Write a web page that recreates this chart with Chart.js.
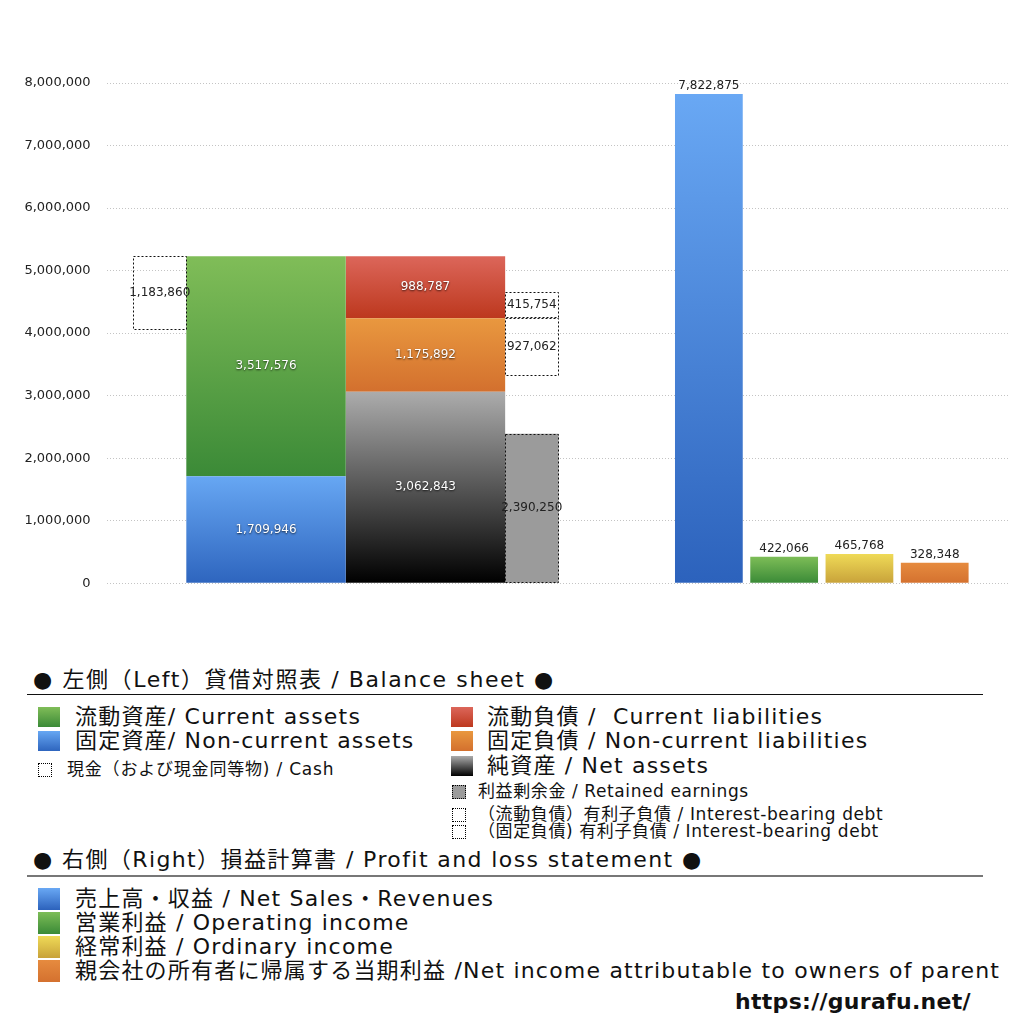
<!DOCTYPE html>
<html lang="ja">
<head>
<meta charset="UTF-8">
<title>貸借対照表・損益計算書</title>
<script src="https://cdn.jsdelivr.net/npm/chart.js@4.4.4/dist/chart.umd.min.js"></script>
<style>
  body { margin: 0; background: #fff; color: #111;
         font-family: "DejaVu Sans", "Noto Sans CJK JP", sans-serif; }
  #page { position: relative; width: 1024px; height: 1024px; overflow: hidden; }
  #chartBox { position: absolute; left: 0; top: 0; width: 1024px; height: 607px; }
  .item { position: absolute; white-space: pre; }
  .sw { position: absolute; box-sizing: border-box; }
  .dot { border: 1px dotted #000; background: #fff; }
  .rule { position: absolute; left: 27px; width: 956px; }
</style>
</head>
<body>
<div id="page">
  <div id="chartBox"><canvas id="bsChart"></canvas></div>
</div>
<script>
// columns on the chart
const bsColumns = ['現金', '資産', '負債・純資産', '内訳'];
const plColumns = ['売上高', '営業利益', '経常利益', '当期利益'];

// balance sheet (left)
const assetNames  = ['流動資産/ Current assets', '固定資産/ Non-current assets'];
const assetValues = [3517576, 1709946];
const cashName  = '現金（および現金同等物) / Cash';
const cashValue = 1183860;
const liabNames  = ['流動負債 /  Current liabilities', '固定負債 / Non-current liabilities', '純資産 / Net assets'];
const liabValues = [988787, 1175892, 3062843];
const detailNames  = ['利益剰余金 / Retained earnings', '（流動負債）有利子負債 / Interest-bearing debt', '（固定負債) 有利子負債 / Interest-bearing debt'];
const detailValues = [2390250, 415754, 927062];

// profit and loss (right)
const plNames  = ['売上高・収益 / Net Sales・Revenues', '営業利益 / Operating income', '経常利益 / Ordinary income', '親会社の所有者に帰属する当期利益 /Net income attributable to owners of parent'];
const plValues = [7822875, 422066, 465768, 328348];

const yTicks = [0, 1000000, 2000000, 3000000, 4000000, 5000000, 6000000, 7000000, 8000000];

// slot layout of the two hidden category axes
const BS_SLOTS = 18, BS_AT = [1, 3, 6, 8];
const PL_SLOTS = 13, PL_AT = [8, 9, 10, 11];
function slotLabels(n, names, at) {
  const a = new Array(n).fill('');
  at.forEach((p, i) => { a[p] = names[i]; });
  return a;
}

const colors = {
  ca:  ['#80bd58', '#3b8a37'],
  nca: ['#67a7f3', '#2e65be'],
  cl:  ['#dc665a', '#bd381e'],
  ncl: ['#e9983f', '#d3702e'],
  na:  ['#acacac', '#000000'],
  re:  '#9b9b9b',
  pl:  [['#69a8f4', '#2c62bc'], ['#7dbd57', '#3a8a37'], ['#efda57', '#c8a23a'], ['#e68b3f', '#d4712f']]
};

function vGrad(pick) {
  return ctx => {
    const c = typeof pick === 'function' ? pick(ctx) : pick;
    const chart = ctx.chart;
    if (!chart.chartArea || ctx.type !== 'data') return c[1];
    const ys = chart.scales.y;
    const r = ctx.raw.y;
    const lo = Array.isArray(r) ? Math.min(r[0], r[1]) : 0;
    const hi = Array.isArray(r) ? Math.max(r[0], r[1]) : r;
    const top = ys.getPixelForValue(hi), bot = ys.getPixelForValue(lo);
    if (!isFinite(top) || bot - top < 1) return c[1];
    const g = chart.ctx.createLinearGradient(0, top, 0, bot);
    g.addColorStop(0, c[0]);
    g.addColorStop(1, c[1]);
    return g;
  };
}

const [ca, nca] = assetValues;
const [cl, ncl, na] = liabValues;
const [re, cibd, ncibd] = detailValues;
const total = ca + nca;
const debtLine = na + ncl;   // boundary current / non-current liabilities

// bar widths are relative to the closest spacing of the columns (two slots)
const wide = { barPercentage: 1.5, categoryPercentage: 1, grouped: false, borderWidth: 0 };
const narrow = { barPercentage: 0.505, categoryPercentage: 1, grouped: false, borderWidth: 0 };

const datasets = [
  { ...wide, label: assetNames[1], data: [{ x: bsColumns[1], y: [0, nca] }], backgroundColor: vGrad(colors.nca), look: 'light' },
  { ...wide, label: assetNames[0], data: [{ x: bsColumns[1], y: [nca, total] }], backgroundColor: vGrad(colors.ca), look: 'light' },
  { ...narrow, label: cashName, data: [{ x: bsColumns[0], y: [total - cashValue, total] }], backgroundColor: 'rgba(255,255,255,0)', dashed: true, look: 'dark' },
  { ...wide, label: liabNames[2], data: [{ x: bsColumns[2], y: [0, na] }], backgroundColor: vGrad(colors.na), look: 'light' },
  { ...wide, label: liabNames[1], data: [{ x: bsColumns[2], y: [na, na + ncl] }], backgroundColor: vGrad(colors.ncl), look: 'light' },
  { ...wide, label: liabNames[0], data: [{ x: bsColumns[2], y: [na + ncl, na + ncl + cl] }], backgroundColor: vGrad(colors.cl), look: 'light' },
  { ...narrow, label: detailNames[0], data: [{ x: bsColumns[3], y: [0, re] }], backgroundColor: colors.re, dashed: true, look: 'dark' },
  { ...narrow, label: detailNames[1], data: [{ x: bsColumns[3], y: [debtLine, debtLine + cibd] }], backgroundColor: 'rgba(255,255,255,0)', dashed: true, look: 'dark' },
  { ...narrow, label: detailNames[2], data: [{ x: bsColumns[3], y: [debtLine - ncibd, debtLine] }], backgroundColor: 'rgba(255,255,255,0)', dashed: true, look: 'dark' },
  { label: 'P/L', xAxisID: 'x2', barPercentage: 0.9, categoryPercentage: 1, grouped: false, borderWidth: 0,
    data: plValues.map((v, i) => ({ x: plColumns[i], y: v })),
    backgroundColor: vGrad(ctx => colors.pl[ctx.dataIndex] || colors.pl[0]), look: 'top' }
];

// dotted boxes and value texts
const barText = {
  id: 'barText',
  afterDatasetsDraw(chart) {
    const c = chart.ctx;
    const items = [];
    chart.data.datasets.forEach((ds, di) => {
      chart.getDatasetMeta(di).data.forEach((el, i) => {
        const p = el.getProps(['x', 'y', 'base', 'width'], true);
        items.push({ ds, p, raw: ds.data[i].y });
      });
    });
    c.save();
    c.strokeStyle = '#111';
    c.lineWidth = 1;
    c.setLineDash([2, 2]);
    items.forEach(({ ds, p }) => {
      if (!ds.dashed) return;
      const top = Math.round(Math.min(p.y, p.base)), bot = Math.round(Math.max(p.y, p.base));
      const l = Math.round(p.x - p.width / 2), r = Math.round(p.x + p.width / 2);
      c.strokeRect(l + 0.5, top + 0.5, r - l - 1, bot - top - 1);
    });
    c.restore();
    c.save();
    c.font = '12px "DejaVu Sans", sans-serif';
    c.textAlign = 'center';
    items.forEach(({ ds, p, raw }) => {
      const amount = Array.isArray(raw) ? Math.abs(raw[1] - raw[0]) : raw;
      const text = amount.toLocaleString('en-US');
      if (ds.look === 'top') {
        c.fillStyle = '#222';
        c.textBaseline = 'bottom';
        c.fillText(text, p.x, Math.min(p.y, p.base) - 2);
        return;
      }
      const cy = (p.y + p.base) / 2;
      c.textBaseline = 'middle';
      if (ds.look === 'light') {
        c.shadowColor = 'rgba(0,0,0,0.75)';
        c.shadowBlur = 2;
        c.shadowOffsetY = 1;
        c.fillStyle = '#fff';
      } else {
        c.shadowColor = 'rgba(0,0,0,0)';
        c.fillStyle = '#222';
      }
      c.fillText(text, p.x, cy);
    });
    c.restore();
  }
};

new Chart(document.getElementById('bsChart'), {
  type: 'bar',
  data: { datasets },
  options: {
    responsive: true,
    maintainAspectRatio: false,
    animation: false,
    layout: { padding: { top: 83, right: 14, bottom: 12, left: 0 } },
    plugins: { legend: { display: false }, tooltip: { enabled: false } },
    scales: {
      x: { type: 'category', labels: slotLabels(BS_SLOTS, bsColumns, BS_AT), offset: false, bounds: 'ticks', display: false },
      x2: { type: 'category', axis: 'x', position: 'bottom', labels: slotLabels(PL_SLOTS, plColumns, PL_AT), offset: false, bounds: 'ticks', display: false },
      y: {
        min: 0, max: 8000000,
        afterBuildTicks: s => { s.ticks = yTicks.map(v => ({ value: v })); },
        afterFit: s => { s.width = 106.6; },
        grid: { color: '#c4c4c4', lineWidth: 1, drawTicks: false },
        border: { display: false, dash: [1, 2] },
        ticks: { padding: 16, color: '#222', font: { family: 'DejaVu Sans', size: 13 },
                 callback: v => Number(v).toLocaleString('en-US') }
      }
    }
  },
  plugins: [barText]
});

// legend below the chart
const page = document.getElementById('page');
function addText(x, cy, text, size, spacing, bold) {
  const d = document.createElement('div');
  d.className = 'item';
  d.style.left = x + 'px';
  d.style.top = (cy - size * 0.7) + 'px';
  d.style.fontSize = size + 'px';
  d.style.lineHeight = (size * 1.4) + 'px';
  d.style.letterSpacing = (spacing || 0) + 'px';
  if (bold) d.style.fontWeight = 'bold';
  d.textContent = text;
  page.appendChild(d);
}
function addSwatch(x, cy, w, h, bg, dotted) {
  const d = document.createElement('div');
  d.className = 'sw' + (dotted ? ' dot' : '');
  d.style.left = x + 'px';
  d.style.top = (cy - h / 2) + 'px';
  d.style.width = w + 'px';
  d.style.height = h + 'px';
  if (bg) d.style.background = Array.isArray(bg) ? 'linear-gradient(' + bg[0] + ',' + bg[1] + ')' : bg;
  page.appendChild(d);
}
function addRule(top, h, color) {
  const d = document.createElement('div');
  d.className = 'rule';
  d.style.top = top + 'px';
  d.style.height = h + 'px';
  d.style.background = color;
  page.appendChild(d);
}

addText(33, 680, '● 左側（Left）貸借対照表 / Balance sheet ●', 22, 1.6);
addRule(694, 1, '#111');
[[colors.ca, 717], [colors.nca, 741]].forEach(([c, cy], i) => {
  addSwatch(38, cy, 22, 20, c);
  addText(75, cy, assetNames[i], 22, 1.2);
});
addSwatch(38, 770, 14, 14, null, true);
addText(67, 770, cashName, 17, 0.8);
[[colors.cl, 717], [colors.ncl, 741], [colors.na, 766]].forEach(([c, cy], i) => {
  addSwatch(451, cy, 22, 20, c);
  addText(487, cy, liabNames[i], 22, 1.2);
});
[[colors.re, 792], [null, 815], [null, 832]].forEach(([c, cy], i) => {
  addSwatch(452, cy, 14, 14, c, true);
  addText(478, cy, detailNames[i], 17, 0.6);
});

addText(33, 860, '● 右側（Right）損益計算書 / Profit and loss statement ●', 22, 1.4);
addRule(875, 2, '#777');
[899, 923, 947, 971].forEach((cy, i) => {
  addSwatch(38, cy, 22, 22, colors.pl[i]);
  addText(75, cy, plNames[i], 22, 1.2);
});
addText(735, 1002, 'https://gurafu.net/', 22, 0.3, true);
</script>
</body>
</html>
